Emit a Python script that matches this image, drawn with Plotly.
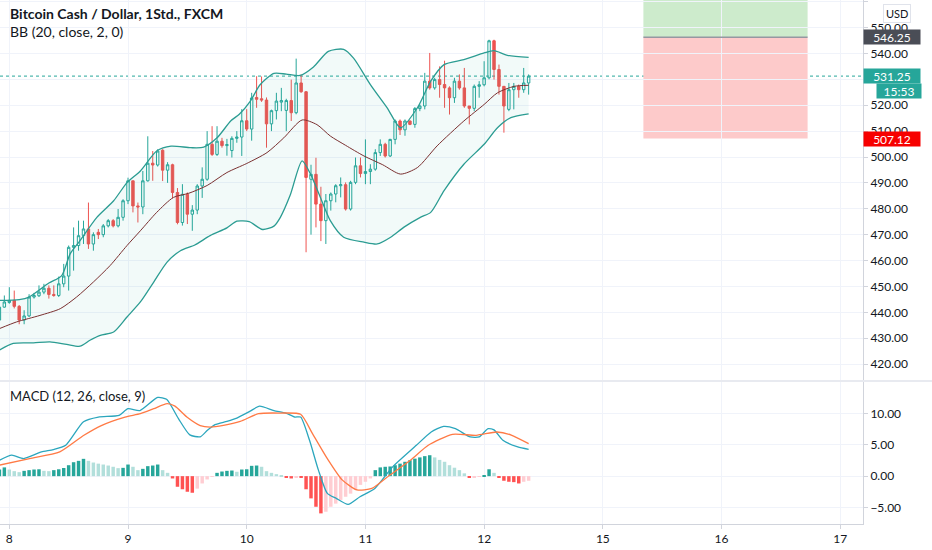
import plotly.graph_objects as go
from plotly.subplots import make_subplots

# Hourly candles, hour 0 = day 8 00:00 (axis shows days, weekend 13/14 skipped)
hours = list(range(-2, 106))

opens = [437.0, 442.0, 443.8, 444.6, 442.3, 437.0, 438.6, 445.9, 446.4, 447.8,
         449.3, 446.9, 446.5, 451.0, 454.0, 465.1, 465.8, 469.6, 472.2, 466.4,
         470.9, 470.0, 473.4, 475.4, 473.4, 476.7, 483.1, 490.8, 481.1, 480.7,
         490.8, 497.6, 496.9, 502.6, 494.9, 497.0, 486.3, 474.7, 485.6, 477.9,
         479.5, 488.8, 491.4, 504.9, 501.0, 506.1, 504.4, 502.5, 507.2, 507.7,
         514.0, 510.8, 523.0, 522.5, 522.0, 512.8, 517.9, 521.2, 518.0, 521.8,
         517.1, 528.6, 525.2, 491.4, 493.3, 481.8, 475.4, 483.1, 485.7, 488.9,
         489.3, 479.9, 490.2, 496.6, 493.6, 494.4, 495.3, 501.7, 504.9, 500.4,
         506.8, 513.9, 510.5, 513.9, 512.6, 518.7, 519.7, 529.3, 526.7, 529.9,
         528.0, 526.7, 522.9, 529.3, 526.7, 519.7, 518.8, 527.3, 527.9, 530.6,
         544.9, 533.8, 527.3, 518.4, 526.0, 527.3, 526.0, 528.6]
highs = [443.0, 446.5, 449.7, 448.4, 442.8, 440.8, 447.0, 447.5, 450.4, 451.0,
         450.4, 450.4, 453.8, 458.7, 465.8, 472.8, 475.4, 475.4, 482.4, 470.9,
         472.2, 474.1, 476.0, 476.0, 479.9, 483.7, 492.0, 490.8, 482.4, 494.6,
         508.0, 502.3, 503.0, 503.0, 498.0, 497.4, 488.0, 489.5, 486.3, 481.4,
         489.5, 496.0, 510.0, 511.9, 511.9, 507.4, 507.0, 508.0, 510.0, 518.5,
         518.5, 524.8, 531.2, 531.1, 523.0, 518.3, 524.8, 526.7, 522.5, 529.9,
         538.0, 531.8, 525.5, 497.0, 499.7, 488.5, 485.7, 486.3, 489.5, 492.1,
         490.2, 490.8, 499.8, 499.8, 506.8, 497.2, 503.0, 506.8, 505.5, 507.0,
         514.5, 514.5, 514.5, 514.1, 519.3, 520.3, 532.5, 540.2, 530.6, 535.0,
         537.2, 527.3, 530.6, 531.9, 534.4, 519.7, 528.0, 529.3, 537.0, 545.3,
         545.3, 535.7, 527.3, 528.6, 528.6, 528.0, 534.4, 531.9]
lows = [436.0, 441.8, 443.3, 441.5, 435.4, 435.4, 438.2, 445.3, 445.9, 447.0,
        445.3, 446.0, 445.9, 449.7, 448.4, 456.1, 463.8, 466.4, 464.5, 463.8,
        468.3, 469.0, 472.8, 472.8, 472.8, 475.4, 481.8, 478.6, 474.7, 477.9,
        490.5, 490.8, 496.3, 490.7, 490.0, 484.0, 474.0, 473.5, 474.1, 471.5,
        477.9, 484.2, 490.8, 500.4, 500.4, 503.6, 500.5, 499.8, 505.5, 500.4,
        510.0, 506.3, 519.0, 521.3, 503.6, 510.0, 514.5, 517.7, 510.0, 513.9,
        516.5, 524.8, 463.2, 470.0, 472.8, 467.5, 466.4, 479.3, 482.5, 484.4,
        479.3, 479.3, 489.5, 492.1, 489.5, 489.5, 494.7, 500.4, 499.8, 500.0,
        504.9, 508.5, 508.2, 512.3, 511.3, 517.7, 518.4, 526.0, 526.0, 522.9,
        519.0, 516.4, 520.9, 526.0, 519.0, 512.6, 517.7, 522.9, 527.3, 530.0,
        529.9, 524.1, 509.4, 517.7, 518.4, 522.9, 524.8, 524.1]
closes = [442.0, 444.0, 444.6, 442.3, 437.0, 438.6, 445.9, 446.5, 447.8, 449.3,
          446.9, 446.5, 451.0, 454.0, 465.1, 465.8, 469.6, 472.2, 466.4, 470.0,
          470.0, 473.4, 475.4, 473.4, 476.7, 483.1, 490.8, 481.1, 480.7, 490.8,
          497.6, 496.9, 502.3, 494.9, 497.0, 486.3, 474.7, 485.6, 477.9, 479.5,
          488.8, 491.4, 504.9, 501.0, 506.1, 504.4, 504.8, 507.2, 507.7, 514.0,
          510.8, 522.8, 522.3, 522.0, 512.8, 517.9, 521.6, 521.8, 521.8, 517.1,
          528.6, 525.2, 492.1, 493.3, 481.8, 475.4, 483.1, 485.7, 488.9, 489.3,
          479.9, 490.2, 496.6, 493.6, 494.4, 495.3, 501.7, 504.9, 500.4, 506.8,
          513.9, 510.5, 513.9, 512.6, 518.7, 519.7, 529.3, 526.7, 529.9, 528.0,
          526.7, 522.9, 529.3, 526.7, 519.7, 518.8, 527.3, 527.9, 530.6, 544.9,
          533.8, 527.3, 519.7, 526.0, 527.3, 526.0, 528.6, 531.25]

# Bollinger Bands (20, 2)
bb_upper_h = [-2, 2, 4, 8, 10.6, 12.3, 14.3, 17.7, 21.1, 23.8, 26.5, 29.8, 32.7,
              36.7, 39.3, 42, 44.8, 46.5, 48.7, 50.7, 53.5, 56, 58.8, 61.5, 64.5,
              67.6, 69.6, 73, 76.4, 79.1, 82.5, 85.2, 87.9, 91.9, 96, 98, 100.7, 105]
bb_upper = [444.6, 444.9, 445.9, 451.3, 454.2, 462.6, 467.7, 476.7, 483.1, 490.1,
            494.6, 502.3, 504.2, 503.6, 503.8, 507.4, 514.0, 516.5, 521.5, 527.9,
            532.3, 532.0, 531.5, 534.8, 540.8, 541.6, 538.2, 528.0, 519.0, 511.3,
            519.0, 529.3, 535.7, 537.6, 540.2, 541.1, 539.3, 538.5]
bb_lower_h = [-2, 0.8, 4.9, 8.2, 11.6, 14.3, 16.3, 18.4, 21.1, 23.8, 26.5, 29.2,
              31.9, 34.6, 37.5, 40.6, 44, 46, 48.5, 51.2, 53.5, 54.8, 56.8, 59.2,
              60.9, 62.9, 64.9, 67.6, 71.7, 74.4, 77.1, 79.8, 83.1, 85.2, 87.9,
              91.9, 96, 98.7, 101.4, 105]
bb_lower = [425.4, 428.0, 428.2, 428.6, 427.6, 426.9, 429.2, 431.1, 432.4, 438.2,
            444.0, 451.7, 459.4, 463.8, 466.0, 469.6, 472.6, 475.2, 475.0, 472.0,
            473.3, 476.7, 485.3, 498.5, 493.4, 484.4, 475.4, 469.0, 467.1, 466.4,
            469.0, 472.9, 476.7, 478.6, 487.0, 497.2, 504.9, 511.3, 515.2, 516.7]
bb_basis_h = [-2, 1.5, 6.2, 10.3, 13.6, 17, 20.4, 23.8, 26.5, 29.8, 33.2, 36.3, 40,
              44, 48, 52.1, 55.5, 59.2, 62.2, 64.9, 68, 71.7, 75.5, 79.1, 82.5,
              86.5, 91.9, 96, 98.7, 102.1, 105]
bb_basis = [433.7, 436.3, 438.8, 441.4, 445.9, 451.7, 458.1, 465.8, 471.5, 478.6,
            484.4, 486.0, 489.0, 494.0, 497.5, 501.7, 507.4, 514.3, 512.5, 508.1,
            504.5, 500.4, 497.0, 493.4, 495.9, 504.3, 513.9, 520.3, 524.8, 527.3,
            527.7]

# MACD (12, 26, 9)
macd_h = [-2, 0.5, 2.9, 6.5, 8.9, 11.4, 15, 18, 22.2, 24, 26.4, 30, 31.8, 34.2,
          36.5, 38.6, 40, 41.6, 44, 46, 48.7, 50.6, 53.5, 55.9, 57.7, 58.9, 60.7,
          62.5, 64.3, 66.1, 68.5, 70.9, 73.9, 77.5, 82.3, 85.3, 87.8, 90.2, 93.2,
          95, 96.8, 98, 99.8, 102.8, 105]
macd = [2.55, 3.35, 2.82, 3.88, 4.25, 4.94, 8.7, 9.46, 9.73, 10.8, 10.5, 12.6,
        12.3, 9.2, 6.6, 6.3, 7.3, 8.24, 8.77, 9.3, 10.4, 11.2, 10.5, 10.1, 9.46,
        9.46, 5.74, 0.96, -2.76, -3.56, -4.52, -3.3, -1.97, 1.49, 4.94, 7.07, 7.97,
        7.6, 6.27, 6.27, 7.6, 7.4, 5.74, 4.68, 4.3]
signal_h = [-2, 4.1, 10.2, 15, 18.6, 23.4, 26.5, 29.2, 31.9, 33.5, 35.9, 38.6,
            40.6, 43.3, 46.7, 50.4, 54.7, 58.9, 61.3, 64.3, 67.3, 70.3, 73.3, 76.9,
            81.1, 84.7, 89.6, 94.4, 98.6, 101.6, 105]
signal = [1.76, 2.82, 3.88, 6.5, 8.1, 9.46, 10.0, 10.8, 11.6, 11.2, 9.46, 8.1,
          7.86, 8.13, 8.77, 10.0, 10.1, 9.9, 6.8, 2.8, -0.6, -2.2, -1.97, 0.16,
          2.55, 4.94, 6.7, 6.54, 7.07, 6.54, 5.2]
hist = [1.06, 1.4, 1.06, 0.8, 0.64, 0.85, 0.96, 1.06, 1.1, 0.85,
        0.8, 0.96, 1.1, 1.3, 1.75, 2.23, 2.45, 2.77, 2.45, 2.18,
        2.0, 1.86, 1.7, 1.5, 1.28, 1.33, 1.86, 1.5, 0.96, 1.17,
        1.6, 1.7, 1.86, 0.96, 0.53, -0.37, -1.7, -2.1, -2.5, -2.66,
        -2.0, -1.17, -0.53, -0.1, 0.53, 0.74, 0.85, 0.9, 0.7, 1.06,
        1.1, 1.65, 1.7, 1.5, 0.8, 0.53, 0.32, 0.16, -0.2, -0.37,
        -0.15, -0.3, -2.1, -3.56, -4.9, -5.96, -5.7, -4.9, -4.4, -3.8,
        -3.3, -2.8, -2.2, -1.4, -0.9, -0.37, 0.96, 1.4, 1.5, 1.55,
        1.75, 2.0, 2.3, 2.55, 2.8, 3.0, 3.2, 3.35, 3.0, 2.6,
        2.3, 1.75, 1.35, 0.96, 0.45, -0.2, -0.15, -0.1, 0.1, 1.1,
        0.53, -0.2, -0.74, -0.9, -0.96, -1.17, -0.9, -0.74]

day_ticks = [0, 24, 48, 72, 96, 120, 144, 168]
day_labels = ["8", "9", "10", "11", "12", "15", "16", "17"]
price_ticks = [420, 430, 440, 450, 460, 470, 480, 490, 500, 510, 520, 530, 540, 550, 560]
# 530.00 sits fully under the last-price tag, so its label is left empty
price_labels = ["420.00", "430.00", "440.00", "450.00", "460.00", "470.00", "480.00",
                "490.00", "500.00", "510.00", "520.00", "", "540.00", "550.00", "560.00"]

# long position tool
pos_start, pos_end = 128.2, 161.4
entry_price = 546.25
stop_price = 507.12
last_price = 531.25

FONT = "Lato"
TEXT = "#131722"
GRID = "#f0f3fa"
UP = "#26a69a"
DOWN = "#ef5350"

# histogram colours: growing/falling above and below zero
hist_colors = []
prev = None
for v in hist:
    rising = prev is None or v >= prev
    if v >= 0:
        hist_colors.append("#26a69a" if rising else "#b2dfdb")
    else:
        hist_colors.append("#ffcdd2" if rising else "#ff5252")
    prev = v

fig = make_subplots(rows=2, cols=1, shared_xaxes=True)

fig.add_trace(go.Scatter(x=bb_lower_h, y=bb_lower, mode="lines",
                         line=dict(color="#2b9c92", width=1.3, shape="spline", smoothing=0.7),
                         hoverinfo="skip"), row=1, col=1)
fig.add_trace(go.Scatter(x=bb_upper_h, y=bb_upper, mode="lines", fill="tonexty",
                         fillcolor="rgba(38,166,154,0.06)",
                         line=dict(color="#2b9c92", width=1.3, shape="spline", smoothing=0.7),
                         hoverinfo="skip"), row=1, col=1)
fig.add_trace(go.Scatter(x=bb_basis_h, y=bb_basis, mode="lines",
                         line=dict(color="#7a3030", width=1, shape="spline", smoothing=0.7),
                         hoverinfo="skip"), row=1, col=1)
fig.add_trace(go.Candlestick(x=hours, open=opens, high=highs, low=lows, close=closes,
                             increasing=dict(line=dict(color=UP, width=1), fillcolor="rgba(0,0,0,0)"),
                             decreasing=dict(line=dict(color=DOWN, width=1), fillcolor=DOWN),
                             whiskerwidth=0), row=1, col=1)

fig.add_trace(go.Bar(x=hours, y=hist, marker=dict(color=hist_colors, line=dict(width=0)),
                     hoverinfo="skip"), row=2, col=1)
fig.add_trace(go.Scatter(x=macd_h, y=macd, mode="lines",
                         line=dict(color="#2ba6bd", width=1.3, shape="spline", smoothing=0.6)),
              row=2, col=1)
fig.add_trace(go.Scatter(x=signal_h, y=signal, mode="lines",
                         line=dict(color="#ff7a45", width=1.3, shape="spline", smoothing=0.6)),
              row=2, col=1)

xr = [-1.88, 172.6]
axis_font = dict(family=FONT, size=12, color=TEXT)
fig.update_layout(
    width=932, height=550,
    margin=dict(l=0, r=69, t=0, b=26),
    paper_bgcolor="white", plot_bgcolor="white",
    showlegend=False, bargap=0.3,
    font=dict(family=FONT, color=TEXT),
    xaxis=dict(domain=[0, 1], range=xr, tickvals=day_ticks, showticklabels=False,
               gridcolor=GRID, zeroline=False, rangeslider=dict(visible=False)),
    xaxis2=dict(domain=[0, 1], range=xr, tickvals=day_ticks, ticktext=day_labels,
                gridcolor=GRID, zeroline=False, showline=True, linecolor="#d1d4dc",
                ticks="outside", ticklen=4, tickcolor="#d1d4dc", tickfont=axis_font),
    yaxis=dict(domain=[144 / 524, 1], range=[413.85, 560.65], side="right",
               tickvals=price_ticks, ticktext=price_labels, gridcolor=GRID, zeroline=False,
               showline=True, linecolor="#d1d4dc", ticks="outside", ticklen=4,
               tickcolor="#d1d4dc", tickfont=axis_font),
    yaxis2=dict(domain=[0, 142 / 524], range=[-7.66, 15.07], side="right",
                tickvals=[-5, 0, 5, 10], tickformat=".2f", gridcolor=GRID, zeroline=False,
                showline=True, linecolor="#d1d4dc", ticks="outside", ticklen=4,
                tickcolor="#d1d4dc", tickfont=axis_font),
)

# current price dotted line, then the position box over it
fig.add_shape(type="line", xref="x domain", yref="y", x0=0, x1=1, y0=last_price, y1=last_price,
              line=dict(color=UP, width=1, dash="dot"), layer="below")
fig.add_shape(type="rect", xref="x", yref="y", x0=pos_start, x1=pos_end, y0=entry_price, y1=600,
              fillcolor="#cdebcc", line=dict(width=0), layer="below")
fig.add_shape(type="rect", xref="x", yref="y", x0=pos_start, x1=pos_end, y0=stop_price,
              y1=entry_price, fillcolor="#fdcaca", line=dict(width=0), layer="below")
fig.add_shape(type="line", xref="x", yref="y", x0=pos_start, x1=pos_end, y0=entry_price,
              y1=entry_price, line=dict(color="#9598a1", width=1.5))

# pane separator
fig.add_shape(type="line", xref="paper", yref="paper", x0=0, x1=932 / 863,
              y0=143 / 524, y1=143 / 524, line=dict(color="#e0e3eb", width=1.5))

# legends / titles
fig.add_annotation(xref="paper", yref="paper", x=8 / 863, y=1 - 14 / 524, xanchor="left",
                   yanchor="middle", showarrow=False,
                   text="<b>Bitcoin Cash / Dollar, 1Std., FXCM</b>",
                   font=dict(family=FONT, size=14, color=TEXT))
fig.add_annotation(xref="paper", yref="paper", x=8 / 863, y=1 - 32 / 524, xanchor="left",
                   yanchor="middle", showarrow=False, text="BB (20, close, 2, 0)",
                   font=dict(family=FONT, size=14, color=TEXT))
fig.add_annotation(xref="paper", yref="paper", x=8 / 863, y=(524 - 396) / 524, xanchor="left",
                   yanchor="middle", showarrow=False, text="MACD (12, 26, close, 9)",
                   font=dict(family=FONT, size=13, color=TEXT))


# price axis labels
def price_tag(y, text, bg, x=1.0, width=56, yref="y"):
    fig.add_annotation(xref="paper", yref=yref, x=x, y=y, xanchor="left", yanchor="middle",
                       showarrow=False, text=text, bgcolor=bg, width=width, height=14,
                       align="center", borderpad=0,
                       font=dict(family=FONT, size=12, color="white"))


price_tag(entry_price, "546.25", "#4a4d56")
price_tag(last_price, "531.25", UP)
price_tag(last_price - 5.7, "15:53", UP, x=876 / 863, width=44)
price_tag(stop_price, "507.12", "#f70000")

fig.add_annotation(xref="paper", yref="paper", x=883 / 863, y=1 - 14 / 524, xanchor="left",
                   yanchor="middle", showarrow=False, text="USD", bgcolor="white",
                   bordercolor="#e0e3eb", borderwidth=1, borderpad=2,
                   font=dict(family=FONT, size=11, color=TEXT))

# the page has no body margin, so the figure sits flush with the window
fig.write_html("out.html", config={"displayModeBar": False},
               post_script="document.body.style.margin='0';")
